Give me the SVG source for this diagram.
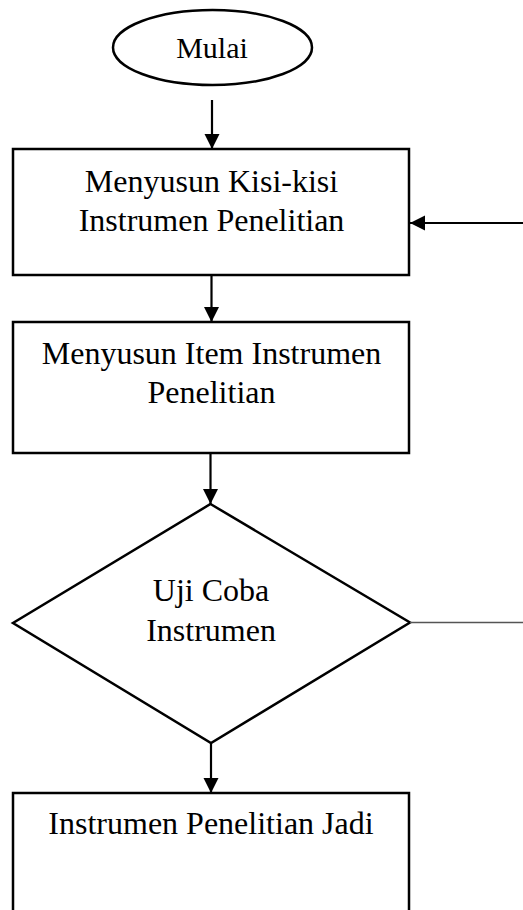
<svg xmlns="http://www.w3.org/2000/svg" width="523" height="910" viewBox="0 0 523 910">
<style>
.shape{fill:#fff;stroke:#000;stroke-width:2.5}
.t{font-family:"Liberation Serif","Times New Roman",serif;font-size:32px;fill:#000;text-anchor:middle}
.c{stroke:#000;stroke-width:2.2;fill:none}
</style>
<defs>
<marker id="ah" markerUnits="userSpaceOnUse" markerWidth="16" markerHeight="16" viewBox="0 0 16 16" refX="15" refY="8" orient="auto">
<path d="M0,0.5 L15,8 L0,15.5 Z" fill="#000"/>
</marker>
</defs>
<rect width="523" height="910" fill="#fff"/>
<g id="mulai">
<ellipse class="shape" cx="212.5" cy="47.5" rx="99.5" ry="37.5"/>
<text class="t" x="212" y="58" style="font-size:30px">Mulai</text>
</g>
<g id="kisi">
<rect class="shape" x="13" y="149" width="396" height="126"/>
<text class="t" x="211.5" y="192">Menyusun Kisi-kisi</text>
<text class="t" x="211.5" y="231">Instrumen Penelitian</text>
</g>
<g id="item">
<rect class="shape" x="13" y="322" width="396" height="131"/>
<text class="t" x="211.5" y="364">Menyusun Item Instrumen</text>
<text class="t" x="211.5" y="403">Penelitian</text>
</g>
<g id="uji">
<polygon class="shape" points="210.5,504 410,622.5 211,743 13,623"/>
<text class="t" x="211" y="601">Uji Coba</text>
<text class="t" x="211" y="641">Instrumen</text>
</g>
<g id="jadi">
<rect class="shape" x="13" y="793" width="396" height="140"/>
<text class="t" x="211" y="834">Instrumen Penelitian Jadi</text>
</g>
<g id="connectors">
<line class="c" x1="212" y1="100" x2="212" y2="149" marker-end="url(#ah)"/>
<line class="c" x1="211.5" y1="275" x2="211.5" y2="322" marker-end="url(#ah)"/>
<line class="c" x1="210.5" y1="453" x2="210.5" y2="504" marker-end="url(#ah)"/>
<line class="c" x1="211" y1="743" x2="211" y2="793" marker-end="url(#ah)"/>
<line class="c" x1="523" y1="223" x2="410" y2="223" marker-end="url(#ah)"/>
<line x1="410" y1="622.5" x2="523" y2="622.5" stroke="#555" stroke-width="1.3"/>
</g>
</svg>
